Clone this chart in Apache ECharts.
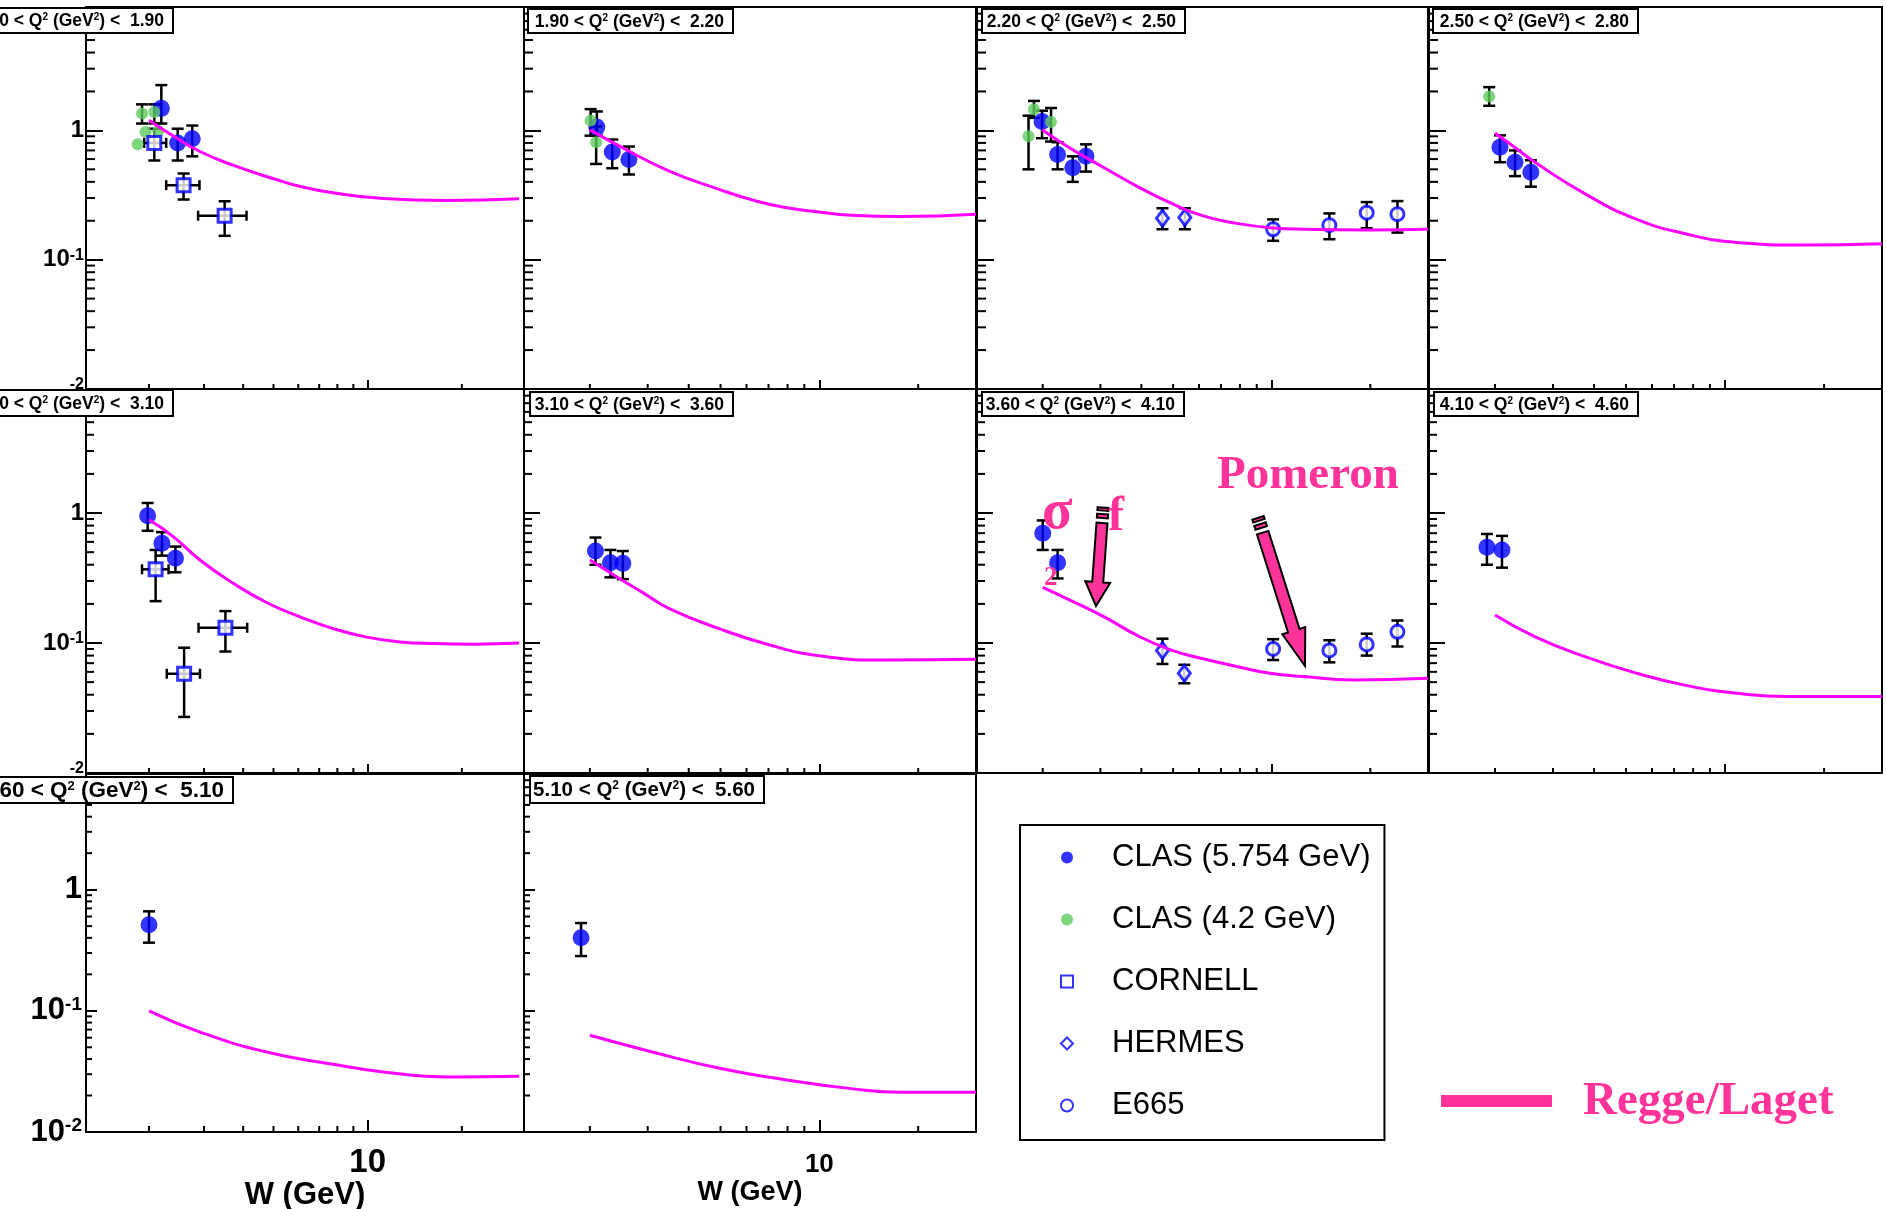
<!DOCTYPE html>
<html>
<head>
<meta charset="utf-8">
<title>Cross sections vs W</title>
<script src="https://cdn.jsdelivr.net/npm/echarts@6.0.0/dist/echarts.min.js"></script>
<style>
html, body { margin:0; padding:0; background:#ffffff; }
#chart { width:1886px; height:1209px; }
</style>
</head>
<body>
<div id="chart"></div>
<script>
// ---------------- DATA ----------------
const qLow  = ['1.60','1.90','2.20','2.50','2.80','3.10','3.60','4.10','4.60','5.10'];
const qHigh = ['1.90','2.20','2.50','2.80','3.10','3.60','4.10','4.60','5.10','5.60'];

const legendNames = ['CLAS (5.754 GeV)', 'CLAS (4.2 GeV)', 'CORNELL', 'HERMES', 'E665'];

// CLAS 5.754 GeV (per panel)
const clas57W  = [[2.19,2.47,2.75],[2.10,2.34,2.63],[1.99,2.22,2.47,2.71],[2.07,2.30,2.57],[1.98,2.20,2.43],[2.08,2.31,2.52],[2.00,2.22],[1.89,2.10],[2.00],[1.88]];
const clas57S  = [[1.48,0.80,0.86],[1.06,0.68,0.595],[1.17,0.65,0.514,0.63],[0.74,0.567,0.475],[0.953,0.586,0.449],[0.51,0.415,0.41],[0.70,0.415],[0.546,0.52],[0.514],[0.40]];
const clas57Lo = [[1.13,0.585,0.63],[0.91,0.51,0.456],[0.87,0.50,0.40,0.48],[0.567,0.443,0.367],[0.73,0.47,0.35],[0.40,0.32,0.31],[0.52,0.314],[0.40,0.38],[0.365],[0.283]];
const clas57Hi = [[2.24,1.03,1.09],[1.40,0.85,0.75],[1.42,0.81,0.63,0.78],[0.915,0.70,0.588],[1.195,0.713,0.552],[0.648,0.52,0.51],[0.877,0.52],[0.69,0.667],[0.662],[0.53]];

// CLAS 4.2 GeV
const clas42W  = [[1.84,1.90,1.95,2.08,2.14],[2.01,2.09],[1.81,1.88,2.12],[1.92],[],[],[],[],[],[]];
const clas42S  = [[0.78,1.35,0.97,1.39,0.99],[1.19,0.81],[0.90,1.46,1.16],[1.83],[],[],[],[],[],[]];
const clas42Lo = [[0.78,1.13,0.97,1.13,0.99],[0.91,0.55],[0.50,1.25,0.82],[1.55],[],[],[],[],[],[]];
const clas42Hi = [[0.78,1.59,0.97,1.59,0.99],[1.46,1.07],[1.30,1.69,1.49],[2.16],[],[],[],[],[],[]];

// CORNELL
const cornellW   = [[2.08,2.58,3.49],[],[],[],[2.10,2.59,3.51],[],[],[],[],[]];
const cornellS   = [[0.80,0.377,0.219],[],[],[],[0.369,0.058,0.131],[],[],[],[],[]];
const cornellLo  = [[0.585,0.292,0.153],[],[],[],[0.21,0.027,0.086],[],[],[],[],[]];
const cornellHi  = [[1.03,0.464,0.283],[],[],[],[0.52,0.092,0.176],[],[],[],[],[]];
const cornellWLo = [[1.93,2.27,2.87],[],[],[],[1.90,2.28,2.88],[],[],[],[],[]];
const cornellWHi = [[2.27,2.90,4.10],[],[],[],[2.31,2.91,4.12],[],[],[],[],[]];

// HERMES
const hermesW  = [[],[],[4.64,5.43],[],[],[],[4.64,5.41],[],[],[]];
const hermesS  = [[],[],[0.209,0.212],[],[],[],[0.0877,0.0585],[],[],[]];
const hermesLo = [[],[],[0.172,0.172],[],[],[],[0.069,0.049],[],[],[]];
const hermesHi = [[],[],[0.25,0.25],[],[],[],[0.108,0.068],[],[],[]];

// E665
const e665W  = [[],[],[10.1,15.0,19.5,24.2],[],[],[],[10.1,15.0,19.5,24.2],[],[],[]];
const e665S  = [[],[],[0.172,0.185,0.231,0.225],[],[],[],[0.090,0.0877,0.0975,0.122],[],[],[]];
const e665Lo = [[],[],[0.14,0.144,0.175,0.162],[],[],[],[0.074,0.071,0.080,0.094],[],[],[]];
const e665Hi = [[],[],[0.205,0.228,0.279,0.284],[],[],[],[0.107,0.105,0.118,0.149],[],[],[]];

// Regge / Laget model curve
const reggeW = [
  [2.0,2.4,2.9,3.71,5.1,6.05,7.74,11.2,17.9,30.5],
  [2.0,2.47,3.49,4.95,6.24,7.87,9.93,12.5,17.7,30],
  [1.99,2.42,3.08,3.87,4.89,6.18,7.82,10.1,12.5,19.9,30],
  [2.0,2.31,2.66,3.78,5.37,7.64,10.9,17.3,30],
  [2.0,2.39,2.91,3.72,4.75,6.08,7.76,9.93,12.7,16.2,22,30.5],
  [2.0,2.46,2.93,3.49,4.95,7.02,9.93,15.8,30],
  [2.0,2.42,3.08,3.87,4.89,6.18,7.82,9.88,12.5,17.7,30],
  [2.0,2.66,3.79,5.40,7.67,10.9,15.5,30],
  [2.0,2.91,4.75,7.76,11.2,18.3,30.5],
  [2.0,3.10,4.93,7.87,12.5,17.8,30]
];
const reggeS = [
  [1.20,0.90,0.69,0.538,0.417,0.37,0.329,0.297,0.287,0.296],
  [1.01,0.753,0.484,0.35,0.29,0.253,0.234,0.221,0.216,0.225],
  [1.01,0.73,0.514,0.371,0.276,0.218,0.191,0.176,0.172,0.170,0.172],
  [0.955,0.73,0.561,0.32,0.206,0.158,0.136,0.130,0.133],
  [0.887,0.659,0.435,0.288,0.205,0.159,0.129,0.111,0.102,0.099,0.098,0.100],
  [0.435,0.314,0.24,0.184,0.129,0.097,0.080,0.074,0.075],
  [0.268,0.214,0.159,0.115,0.089,0.0757,0.066,0.0585,0.0552,0.052,0.0535],
  [0.164,0.111,0.0778,0.0585,0.047,0.041,0.0387,0.0387],
  [0.100,0.0668,0.0457,0.0362,0.0313,0.0284,0.0288],
  [0.0628,0.0457,0.0337,0.027,0.0228,0.0213,0.0213]
];

// axis tick values
const xMinorTicks = [2,3,4,5,6,7,8,9,20];
const yMinorTicks = [0.02,0.03,0.04,0.05,0.06,0.07,0.08,0.09,0.2,0.3,0.4,0.5,0.6,0.7,0.8,0.9,2,3,4,5,6,7,8,9];

// ---------------- LAYOUT / STYLE ----------------
const colLeft  = [86, 524, 977, 1429];
const colWidth = [438, 452, 451, 453];
const rowTop    = [7, 389, 774];
const rowHeight = [382, 384, 358];
const xMinCol = [1.258, 1.26, 1.26, 1.26];
const xMaxCol = [31.6, 30, 30, 30];
const yMin = 0.01, yMax = 9;
const yMajLen = [17, 16, 11], yMinLen = [9, 8, 6], xMajLen = [9, 9, 12], xMinLen = [5, 5, 6];

const BLUE = '#0000ff', GREEN = '#5ccc5c', MAGENTA = '#ff00ff', PINK = '#ff3399';
const SANS = "'Liberation Sans', Arial, Helvetica, sans-serif";
const SERIF = "'Liberation Serif', 'Times New Roman', serif";

const qBox = [[-60,8,173,33],[528,9,733,33],[982,9,1185,33],[1433,9,1638,33],
              [-60,390,173,416],[530,392,733,416],[982,392,1184,416],[1434,392,1638,416],
              [-60,777,233,803],[530,776,764,803]];
const qFont = [17.5,17.5,17.5,17.5,17.5,17.5,17.5,17.5,22.5,20.5];

const hollow = {color:'#ffffff', borderColor:BLUE, borderWidth:3};
const datasets = [
  {name:legendNames[0], W:clas57W, S:clas57S, lo:clas57Lo, hi:clas57Hi, symbol:'circle', size:17, style:{color:BLUE}},
  {name:legendNames[1], W:clas42W, S:clas42S, lo:clas42Lo, hi:clas42Hi, symbol:'circle', size:12, style:{color:GREEN}},
  {name:legendNames[2], W:cornellW, S:cornellS, lo:cornellLo, hi:cornellHi, wlo:cornellWLo, whi:cornellWHi, symbol:'rect', size:13, style:hollow},
  {name:legendNames[3], W:hermesW, S:hermesS, lo:hermesLo, hi:hermesHi, symbol:'diamond', size:[12,16], style:hollow},
  {name:legendNames[4], W:e665W, S:e665S, lo:e665Lo, hi:e665Hi, symbol:'circle', size:13, style:hollow}
];

function isPow10(v) { const e = Math.log10(v); return Math.abs(e - Math.round(e)) < 1e-6; }

function errRender(params, api) {
  const x = api.value(0), lo = api.value(2), hi = api.value(3), xl = api.value(4), xh = api.value(5), y = api.value(1);
  const st = {stroke:'#000', lineWidth:2.5};
  const ch = [];
  if (hi > lo) {
    const a = api.coord([x, lo]), b = api.coord([x, hi]);
    ch.push({type:'line', shape:{x1:a[0], y1:a[1], x2:b[0], y2:b[1]}, style:st});
    ch.push({type:'line', shape:{x1:a[0]-6, y1:a[1], x2:a[0]+6, y2:a[1]}, style:st});
    ch.push({type:'line', shape:{x1:b[0]-6, y1:b[1], x2:b[0]+6, y2:b[1]}, style:st});
  }
  if (xh > xl) {
    const a = api.coord([xl, y]), b = api.coord([xh, y]);
    ch.push({type:'line', shape:{x1:a[0], y1:a[1], x2:b[0], y2:b[1]}, style:st});
    ch.push({type:'line', shape:{x1:a[0], y1:a[1]-5, x2:a[0], y2:a[1]+5}, style:st});
    ch.push({type:'line', shape:{x1:b[0], y1:b[1]-5, x2:b[0], y2:b[1]+5}, style:st});
  }
  return {type:'group', children:ch};
}

function tickRender(lx, ly) {
  return function (params, api) {
    const p = api.coord([api.value(0), api.value(1)]);
    const k = api.value(2);
    const shape = k === 0 ? {x1:p[0], y1:p[1], x2:p[0], y2:p[1]-lx} : {x1:p[0], y1:p[1], x2:p[0]+ly, y2:p[1]};
    return {type:'line', shape:shape, style:{stroke:'#000', lineWidth:2}};
  };
}

const grids = [], xAxes = [], yAxes = [], series = [];

for (let i = 0; i < 10; i++) {
  const row = Math.floor(i / 4), col = i % 4;
  grids.push({left:colLeft[col], top:rowTop[row], width:colWidth[col], height:rowHeight[row],
    show:true, borderColor:'#000', borderWidth:2, backgroundColor:'transparent',
    containLabel:false, outerBoundsMode:'none'});
  const big = row === 2;
  const xFont = i === 8 ? 33 : 26;
  xAxes.push({
    type:'log', logBase:10, gridIndex:i, min:xMinCol[col], max:xMaxCol[col],
    axisLine:{show:true, onZero:false, lineStyle:{color:'#000', width:2}},
    axisTick:{show:true, inside:true, length:xMajLen[row], lineStyle:{color:'#000', width:2}},
    splitLine:{show:false}, minorTick:{show:false},
    axisLabel:{show:big, showMinLabel:false, showMaxLabel:false, margin: i === 8 ? 14 : 20,
      fontSize:xFont, fontWeight:'bold', color:'#000', fontFamily:SANS,
      formatter: v => (Math.abs(v - 10) < 1e-6 ? '10' : '')},
    name: big ? 'W (GeV)' : '', nameLocation:'middle', nameGap: i === 8 ? 42 : 47,
    nameTextStyle:{fontSize: i === 8 ? 31 : 27, fontWeight:'bold', color:'#000', fontFamily:SANS}
  });
  const bFont = big ? 31 : 24, sFont = big ? 19 : 16;
  yAxes.push({
    type:'log', logBase:10, gridIndex:i, min:yMin, max:yMax,
    axisLine:{show:true, onZero:false, lineStyle:{color:'#000', width:2}},
    axisTick:{show:true, inside:true, length:yMajLen[row], lineStyle:{color:'#000', width:2}},
    splitLine:{show:false}, minorTick:{show:false},
    axisLabel:{show:col === 0, margin: big ? 4 : 2, showMaxLabel:false,
      formatter: function (v) {
        if (!isPow10(v)) return '';
        const e = Math.round(Math.log10(v));
        if (e === 0) return '{b|1}';
        if (e === -2 && !big) return '{h|10}{s|-2}';
        return '{b|10}{s|' + e + '}';
      },
      rich:{
        b:{fontSize:bFont, fontWeight:'bold', color:'#000', fontFamily:SANS},
        h:{fontSize:bFont, fontWeight:'bold', color:'rgba(0,0,0,0)', fontFamily:SANS},
        s:{fontSize:sFont, fontWeight:'bold', color:'#000', fontFamily:SANS, verticalAlign:'top'}
      }}
  });

  // minor ticks drawn through the axes' scales
  const tickData = xMinorTicks.map(v => [v, yMin, 0]).concat(yMinorTicks.map(v => [xMinCol[col], v, 1]));
  series.push({type:'custom', xAxisIndex:i, yAxisIndex:i, dimensions:['x','y','k'], encode:{x:0, y:1},
    data:tickData, renderItem:tickRender(xMinLen[row], yMinLen[row]), silent:true, z:2});

  datasets.forEach(ds => {
    const W = ds.W[i];
    if (!W || !W.length) return;
    const errData = W.map((w, k) => [w, ds.S[i][k], ds.lo[i][k], ds.hi[i][k],
      ds.wlo ? ds.wlo[i][k] : w, ds.whi ? ds.whi[i][k] : w]);
    series.push({type:'custom', name:ds.name + ' err', xAxisIndex:i, yAxisIndex:i,
      dimensions:['w','s','lo','hi','wl','wh'], encode:{x:0, y:1},
      data:errData, renderItem:errRender, silent:true, z:3});
    series.push({type:'scatter', name:ds.name, xAxisIndex:i, yAxisIndex:i,
      data:W.map((w, k) => [w, ds.S[i][k]]), symbol:ds.symbol, symbolSize:ds.size,
      itemStyle:ds.style, silent:true, z:4});
  });

  series.push({type:'line', name:'Regge/Laget', xAxisIndex:i, yAxisIndex:i,
    data:reggeW[i].map((w, k) => [w, reggeS[i][k]]), smooth:0.5,
    showSymbol:false, symbol:'none', lineStyle:{color:MAGENTA, width:3}, silent:true, z:5});
}

// ---------------- GRAPHIC ANNOTATIONS ----------------
const graphic = [];
for (let i = 0; i < 10; i++) {
  const b = qBox[i];
  const fs = qFont[i], ss = Math.round(fs * 0.58);
  graphic.push({type:'rect', z:100, shape:{x:b[0], y:b[1], width:b[2]-b[0], height:b[3]-b[1]},
    style:{fill:'#ffffff', stroke:'#000', lineWidth:2}});
  graphic.push({type:'text', z:101, x:b[2]-9, y:(b[1]+b[3])/2 + 1,
    style:{text:'{n|' + qLow[i] + ' < Q}{s|2}{n| (GeV}{s|2}{n|) <  ' + qHigh[i] + '}',
      align:'right', verticalAlign:'middle',
      rich:{n:{fontSize:fs, fontWeight:'bold', fontFamily:SANS, fill:'#000'},
            s:{fontSize:ss, fontWeight:'bold', fontFamily:SANS, fill:'#000', verticalAlign:'top'}}}});
}

function arrow(top, tip, sh, hh, hl) {
  const dx = tip[0]-top[0], dy = tip[1]-top[1], L = Math.hypot(dx, dy);
  const u = [dx/L, dy/L], p = [u[1], -u[0]];
  const base = [tip[0]-u[0]*hl, tip[1]-u[1]*hl];
  const pt = (c, s) => [c[0]+p[0]*s, c[1]+p[1]*s];
  const main = [pt(top,-sh), pt(top,sh), pt(base,sh), pt(base,hh), tip, pt(base,-hh), pt(base,-sh)];
  const dash = (d, len) => {
    const a = [top[0]+u[0]*(d-len/2), top[1]+u[1]*(d-len/2)], c = [top[0]+u[0]*(d+len/2), top[1]+u[1]*(d+len/2)];
    return [pt(a,-sh), pt(a,sh), pt(c,sh), pt(c,-sh)];
  };
  return [main, dash(-7, 4), dash(-14, 3)];
}
const arrowStyle = {fill:PINK, stroke:'#000', lineWidth:2};
arrow([1102,523],[1096,606],5.5,12.5,24).forEach(pts => graphic.push({type:'polygon', z:100, shape:{points:pts}, style:arrowStyle}));
arrow([1262.7,532.7],[1305,666],6,12,37).forEach(pts => graphic.push({type:'polygon', z:100, shape:{points:pts}, style:arrowStyle}));

graphic.push({type:'text', z:101, x:1217, y:476, style:{text:'Pomeron', fill:PINK, font:'bold 47px ' + SERIF, verticalAlign:'middle'}});
graphic.push({type:'text', z:101, x:1042, y:514, style:{text:'σ', fill:PINK, font:'bold 56px ' + SERIF, verticalAlign:'middle'}});
graphic.push({type:'text', z:101, x:1108, y:518, style:{text:'f', fill:PINK, font:'bold 48px ' + SERIF, verticalAlign:'middle'}});
graphic.push({type:'text', z:101, x:1044, y:578, style:{text:'2', fill:PINK, font:'bold 27px ' + SERIF, verticalAlign:'middle'}});

graphic.push({type:'rect', z:100, shape:{x:1441, y:1095, width:111, height:12}, style:{fill:PINK}});
graphic.push({type:'text', z:101, x:1583, y:1102, style:{text:'Regge/Laget', fill:PINK, font:'bold 47px ' + SERIF, verticalAlign:'middle'}});

const option = {
  animation:false,
  backgroundColor:'#ffffff',
  textStyle:{fontFamily:SANS},
  grid:grids, xAxis:xAxes, yAxis:yAxes, series:series,
  legend:{
    show:true, orient:'vertical', left:1020, top:825,
    padding:[17,14,19,40], itemGap:31, itemWidth:12, itemHeight:12,
    borderColor:'#000', borderWidth:2, borderRadius:0, backgroundColor:'#ffffff',
    selectedMode:false, data:legendNames,
    formatter:'{a|{name}}',
    textStyle:{color:'#000', fontFamily:SANS, fontSize:31,
      rich:{a:{fontSize:31, fontFamily:SANS, color:'#000', padding:[0,0,0,34], lineHeight:30}}}
  },
  graphic:graphic
};

const chart = echarts.init(document.getElementById('chart'), null, {renderer:'canvas', width:1886, height:1209});
chart.setOption(option);
</script>
</body>
</html>
